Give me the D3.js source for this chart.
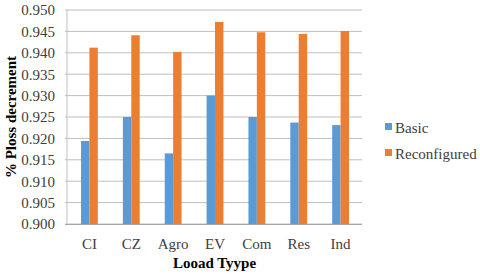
<!DOCTYPE html>
<html><head><meta charset="utf-8">
<script src="https://cdn.jsdelivr.net/npm/d3@7"></script>
<style>body{margin:0;background:#fff}svg{display:block}</style>
</head><body><svg id="c" width="480" height="275" font-family="Liberation Serif"></svg>
<script>
const categories = ["CI","CZ","Agro","EV","Com","Res","Ind"];
const basic = [0.9194,0.9250,0.9165,0.9300,0.9250,0.9237,0.9231];
const reconfigured = [0.9412,0.9441,0.9402,0.9472,0.9448,0.9444,0.9451];
const seriesNames = ["Basic","Reconfigured"];
const yTicks = [0.900,0.905,0.910,0.915,0.920,0.925,0.930,0.935,0.940,0.945,0.950];
const colors = ["#5b9bd5","#ed7d31"];
const FONT = "Liberation Serif";

const svg = d3.select("#c");
const L=67,R=362,T=10,B=224;
const x = d3.scaleBand().domain(categories).range([68.5,361.5]);
const xs = d3.scaleBand().domain(seriesNames).range([0,x.bandwidth()]).paddingInner(0).paddingOuter(1.49);
const y = d3.scaleLinear().domain([0.900,0.950]).range([B,T]);

svg.append("g").selectAll("line").data(yTicks).join("line")
  .attr("x1",L-2).attr("x2",R).attr("y1",d=>y(d)).attr("y2",d=>y(d))
  .attr("stroke","#bfbfbf").attr("stroke-width",1);
svg.append("line").attr("x1",L).attr("x2",L).attr("y1",T).attr("y2",B).attr("stroke","#bfbfbf");

const yAxis = d3.axisLeft(y).tickValues(yTicks).tickFormat(d3.format(".3f")).tickSize(0).tickPadding(12);
const ga = svg.append("g").attr("transform",`translate(${L},0)`).call(yAxis);
ga.attr("font-family",FONT);
ga.select(".domain").remove();
ga.selectAll("text").attr("font-size",15).attr("fill","#404040").attr("font-family",FONT);

const data = categories.map((c,i)=>({c,vals:[basic[i],reconfigured[i]]}));
const g = svg.append("g");
data.forEach(d=>{
  d.vals.forEach((v,j)=>{
    g.append("rect").attr("x",x(d.c)+xs(seriesNames[j])).attr("width",xs.bandwidth())
     .attr("y",y(v)).attr("height",B-y(v)).attr("fill",colors[j]);
  });
});

const xAxis = d3.axisBottom(x).tickSize(0).tickPadding(14);
const gx = svg.append("g").attr("transform",`translate(0,${B})`).call(xAxis);
gx.attr("font-family",FONT);
gx.select(".domain").attr("d",`M${L-2},0.5H${R}`).attr("stroke","#a6a6a6");
gx.selectAll("text").attr("font-size",15).attr("fill","#404040").attr("font-family",FONT);

svg.append("text").attr("x",(L+R)/2).attr("y",268).attr("text-anchor","middle").attr("font-family",FONT)
  .attr("font-size",15).attr("font-weight","bold").attr("fill","#000").text("Looad Tyype");
svg.append("text").attr("transform",`translate(16,${(T+B)/2}) rotate(-90)`).attr("text-anchor","middle").attr("font-family",FONT)
  .attr("font-size",15).attr("font-weight","bold").attr("fill","#000").text("% Ploss decrement");

const lg = svg.append("g");
seriesNames.forEach((s,i)=>{
  const yy = 128 + i*26;
  lg.append("rect").attr("x",385).attr("y",yy-5).attr("width",7).attr("height",7).attr("fill",colors[i]);
  lg.append("text").attr("x",395).attr("y",yy+5).attr("font-size",15).attr("font-family",FONT).attr("fill","#404040").text(s);
});
</script></body></html>
